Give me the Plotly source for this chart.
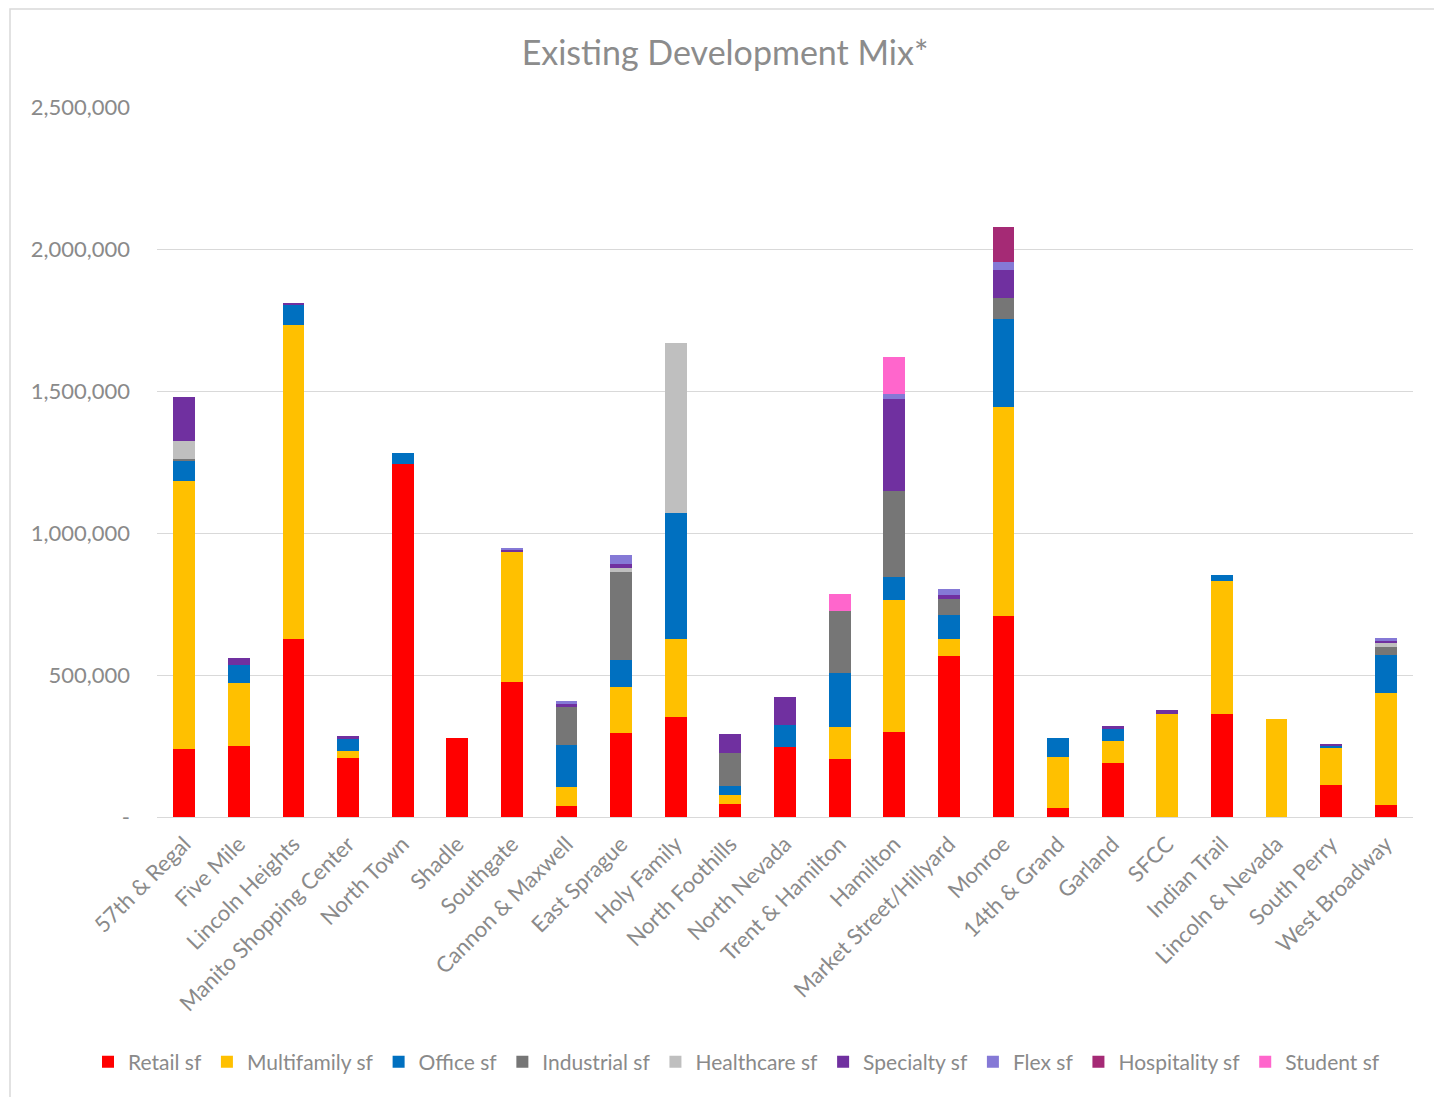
import plotly.graph_objects as go

# Study areas along the x axis
areas = [
    "57th & Regal", "Five Mile", "Lincoln Heights", "Manito Shopping Center",
    "North Town", "Shadle", "Southgate", "Cannon & Maxwell", "East Sprague",
    "Holy Family", "North Foothills", "North Nevada", "Trent & Hamilton",
    "Hamilton", "Market Street/Hillyard", "Monroe", "14th & Grand", "Garland",
    "SFCC", "Indian Trail", "Lincoln & Nevada", "South Perry", "West Broadway",
]

# Square footage by land use (one value per area)
retail_sf = [240000, 250000, 628000, 209000, 1244000, 277000, 476000, 40000, 295000,
             353000, 46000, 246000, 204000, 300000, 567000, 708000, 33000, 190000,
             0, 363000, 0, 113000, 42000]
multifamily_sf = [943000, 223000, 1104000, 23000, 0, 0, 458000, 67000, 164000,
                  274000, 31000, 0, 112000, 464000, 59000, 734000, 177000, 78000,
                  364000, 467000, 345000, 130000, 393000]
office_sf = [71000, 61000, 71000, 43000, 38000, 0, 0, 148000, 93000,
             444000, 33000, 77000, 190000, 80000, 87000, 313000, 69000, 45000,
             0, 22000, 0, 7000, 135000]
industrial_sf = [6000, 0, 0, 0, 0, 0, 0, 132000, 310000,
                 0, 114000, 0, 220000, 304000, 56000, 72000, 0, 0,
                 0, 0, 0, 0, 29000]
healthcare_sf = [64000, 0, 0, 0, 0, 0, 0, 0, 16000,
                 599000, 0, 0, 0, 0, 0, 0, 0, 0,
                 0, 0, 0, 0, 15000]
specialty_sf = [154000, 27000, 7000, 9000, 0, 0, 8000, 12000, 14000,
                0, 68000, 100000, 0, 325000, 11000, 98000, 0, 6000,
                12000, 0, 0, 4000, 6000]
flex_sf = [0, 0, 0, 0, 0, 0, 3000, 9000, 32000,
           0, 0, 0, 0, 17000, 22000, 29000, 0, 0,
           0, 0, 0, 0, 11000]
hospitality_sf = [0, 0, 0, 0, 0, 0, 0, 0, 0,
                  0, 0, 0, 0, 0, 0, 124000, 0, 0,
                  0, 0, 0, 0, 0]
student_sf = [0, 0, 0, 0, 0, 0, 0, 0, 0,
              0, 0, 0, 59000, 129000, 0, 0, 0, 0,
              0, 0, 0, 0, 0]

series_names = ["Retail sf", "Multifamily sf", "Office sf", "Industrial sf",
                "Healthcare sf", "Specialty sf", "Flex sf", "Hospitality sf", "Student sf"]
series_values = [retail_sf, multifamily_sf, office_sf, industrial_sf,
                 healthcare_sf, specialty_sf, flex_sf, hospitality_sf, student_sf]
series_colors = ["#FF0000", "#FFC000", "#0070C0", "#767676", "#BFBFBF",
                 "#7030A0", "#8579D6", "#A52A75", "#FF66CC"]

y_tick_vals = [0, 500000, 1000000, 1500000, 2000000, 2500000]
y_tick_text = ["-", "500,000", "1,000,000", "1,500,000", "2,000,000", "2,500,000"]

FONT = "Lato, 'Open Sans', sans-serif"
TEXT_GRAY = "#8A8A8A"

# plot-area geometry in pixels
W, H = 1434, 1097
L, R, T, B = 157, 21, 107, 280
PW, PH = W - L - R, H - T - B

fig = go.Figure()
for name, vals, color in zip(series_names, series_values, series_colors):
    fig.add_trace(go.Bar(
        name=name, x=areas, y=vals,
        marker=dict(color=color, line=dict(width=0)),
    ))

fig.update_layout(
    barmode="stack",
    bargap=0.6,
    width=W, height=H,
    margin=dict(l=L, r=R, t=T, b=B),
    paper_bgcolor="white", plot_bgcolor="white",
    font=dict(family=FONT, color=TEXT_GRAY, size=21),
    title=dict(text="Existing Development Mix*", x=725 / W,
               xanchor="center", y=1 - 53 / H, yanchor="middle",
               font=dict(family=FONT, size=34, color="#8C8C8C")),
    legend=dict(orientation="h", x=(88 - L) / PW, xanchor="left",
                y=-(1062 - (T + PH)) / PH, yanchor="middle",
                font=dict(family=FONT, size=21, color=TEXT_GRAY),
                itemwidth=30, traceorder="normal", itemsizing="constant"),
    xaxis=dict(tickangle=-45, showgrid=False, showline=False, ticks="",
               ticklabelstandoff=9,
               tickfont=dict(family=FONT, size=22, color=TEXT_GRAY)),
    yaxis=dict(range=[0, 2500000], tickvals=y_tick_vals, ticktext=y_tick_text,
               showgrid=True, gridcolor="#D9D9D9", gridwidth=1,
               zeroline=True, zerolinecolor="#D9D9D9", zerolinewidth=1,
               showline=False, ticks="", ticklabelstandoff=26,
               tickfont=dict(family=FONT, size=22, color=TEXT_GRAY)),
    shapes=[dict(type="rect", xref="paper", yref="paper",
                 x0=(10 - L) / PW, x1=(1500 - L) / PW,
                 y0=-(1200 - (T + PH)) / PH, y1=(T + PH - 9) / PH,
                 line=dict(color="#D9D9D9", width=1.5), layer="below")],
)

fig.write_html("out.html")
